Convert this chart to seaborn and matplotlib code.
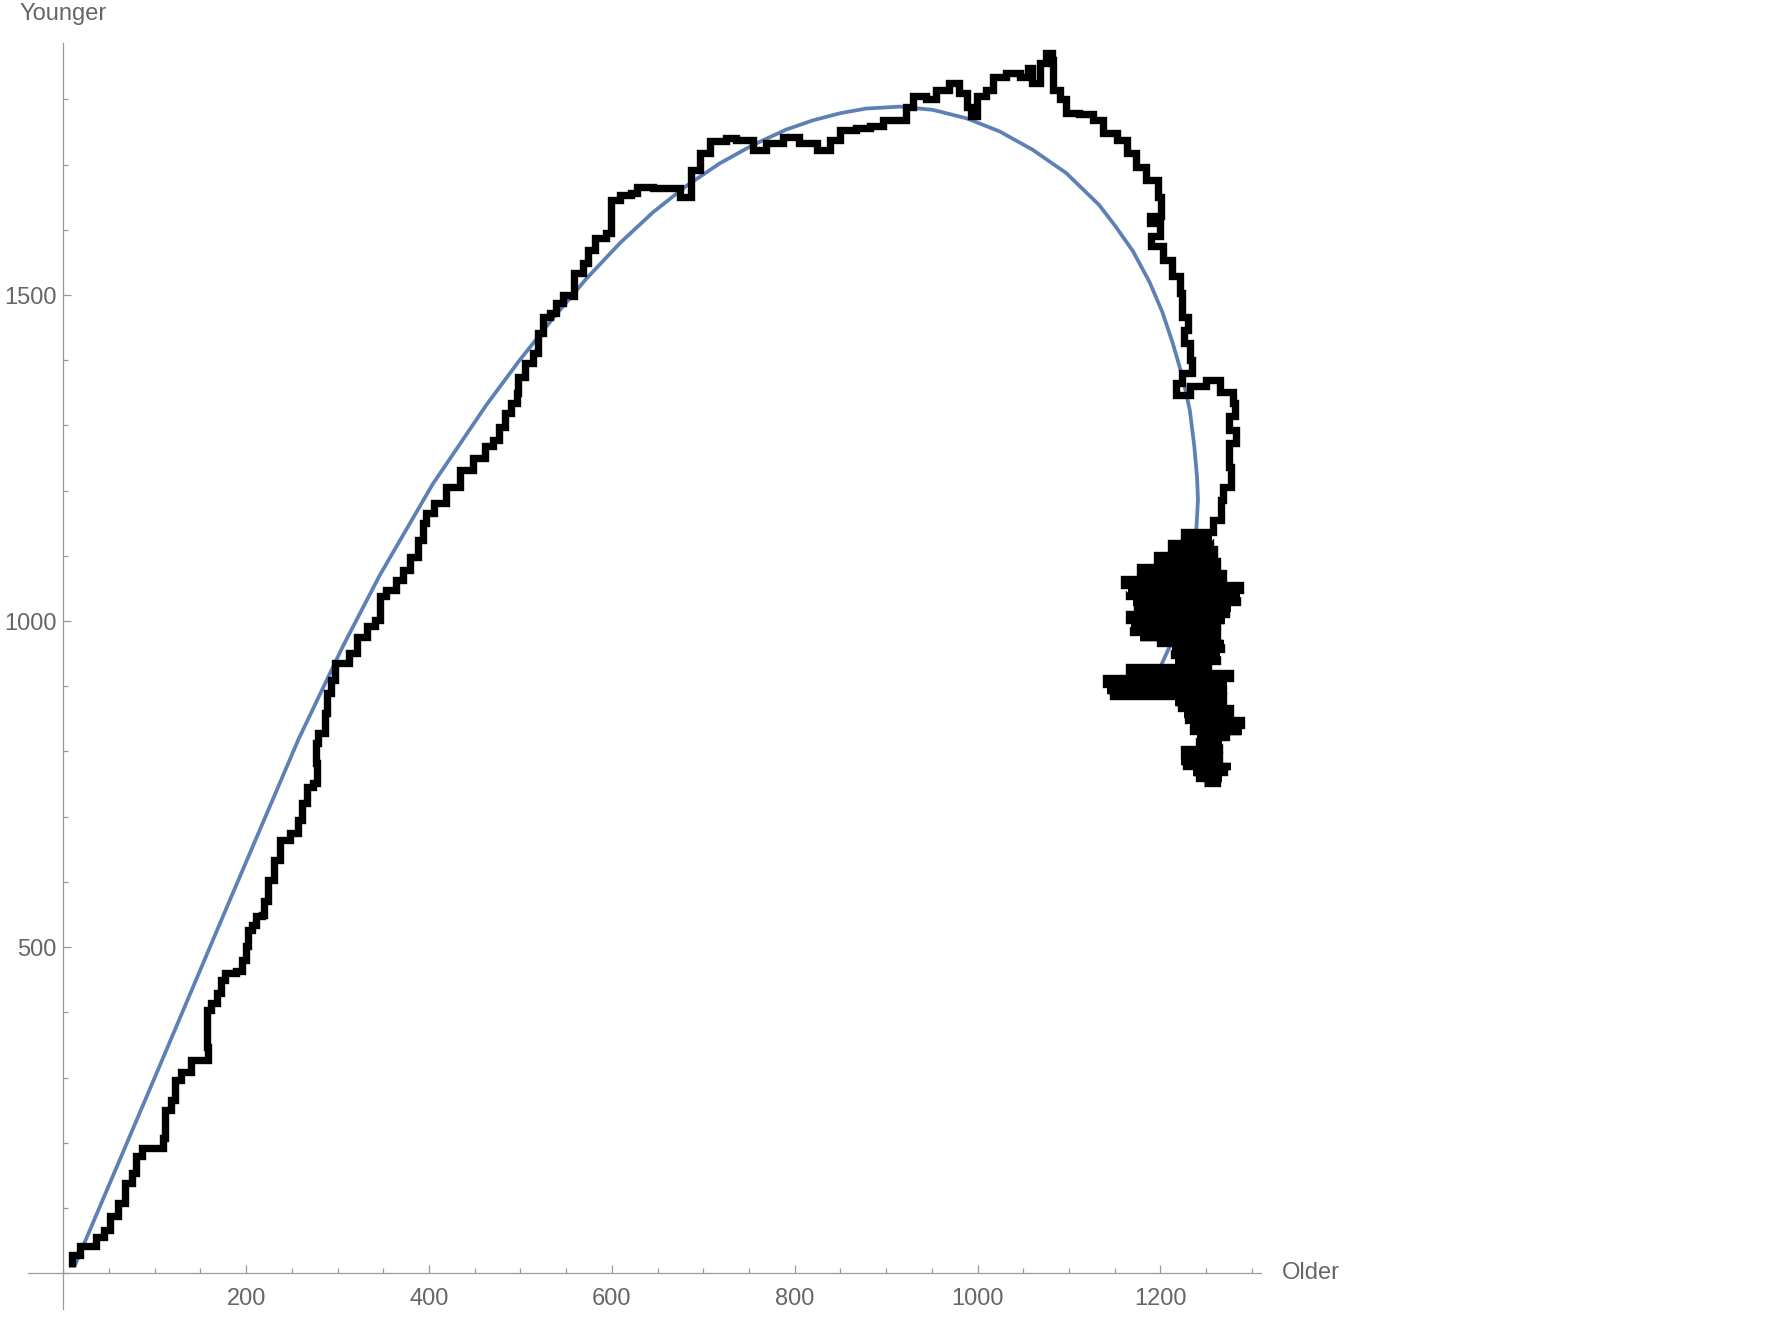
import pandas as pd
import matplotlib.pyplot as plt
import seaborn as sns
from matplotlib.ticker import MultipleLocator

sns.set_theme(style="white")
plt.rcParams['font.family'] = ['Liberation Sans', 'DejaVu Sans']

# random walk (older vs younger counts)
walk_older = [
    9, 9, 18, 29, 36, 44, 51, 60, 67, 75, 80, 86, 98, 109, 111, 118, 122, 129, 140, 157,
    158, 157, 157, 162, 168, 173, 177, 189, 195, 200, 202, 206, 211, 217, 219,
    224, 230, 237, 248, 257, 261, 266, 273, 277, 276, 279, 286, 288, 293, 297, 304, 312,
    321, 332, 341, 346, 353, 364, 372, 379, 388, 393, 397, 405,
    419, 434, 448, 461, 470, 477, 483, 490, 496, 497, 505, 514, 519, 525, 532, 539, 547,
    557, 559, 568, 574, 581, 594, 599, 599, 609, 621, 628, 645, 660, 674, 687, 687, 696,
    707, 725, 736, 754, 769, 787, 805, 824, 838, 849, 867, 882, 896, 915, 922, 929, 944,
    955, 969, 980, 988, 993, 999, 1009, 1017, 1031, 1046, 1055, 1060, 1068, 1075, 1081,
    1082, 1090, 1097, 1111, 1126, 1137, 1152, 1163, 1173, 1184, 1197, 1201, 1188, 1199,
    1190, 1203, 1213, 1221, 1224, 1230, 1226, 1232, 1234, 1223, 1217, 1232, 1250, 1265,
    1279, 1281, 1275, 1283, 1275, 1277, 1268, 1266, 1257,
    # tangled cluster near the end
    1230, 1226, 1255, 1254, 1218, 1212, 1258, 1258, 1205, 1196, 1260, 1262, 1188,
    1178, 1264, 1268, 1168, 1160, 1272, 1287, 1164, 1166, 1286, 1284, 1170, 1174, 1276,
    1272, 1168, 1166, 1270, 1262, 1168, 1170, 1258, 1262, 1178, 1200, 1268, 1266, 1213,
    1215, 1264, 1262, 1216, 1252, 1196, 1166, 1270, 1276, 1150, 1140, 1272, 1268, 1142,
    1148, 1266, 1268, 1216, 1222, 1272, 1276, 1226, 1230, 1286, 1288, 1232, 1236, 1288,
    1272, 1240, 1242, 1266, 1264, 1234, 1226, 1262, 1264, 1222, 1228, 1276, 1270, 1236,
    1242, 1266, 1262, 1248,
]
walk_younger = [
    10, 28, 41, 41, 56, 66, 87, 107, 138, 153, 179, 192, 192, 207, 250, 266, 296, 309, 327, 327,
    347, 368, 404, 414, 429, 450, 460, 463, 480, 501, 526, 534, 547, 550, 570,
    603, 634, 665, 675, 695, 721, 746, 751, 782, 813, 828, 859, 889, 910, 936, 936, 951,
    976, 992, 1002, 1038, 1048, 1063, 1079, 1099, 1125, 1150, 1166, 1181,
    1206, 1232, 1250, 1268, 1278, 1298, 1319, 1334, 1350, 1375, 1396, 1411, 1442, 1467, 1472, 1488, 1500,
    1498, 1534, 1549, 1569, 1587, 1595, 1616, 1646, 1654, 1656, 1666, 1664, 1664, 1651, 1666, 1692, 1718,
    1736, 1741, 1738, 1723, 1733, 1743, 1733, 1723, 1738, 1753, 1756, 1759, 1769, 1769, 1789, 1805, 1800,
    1815, 1825, 1810, 1789, 1774, 1805, 1815, 1835, 1840, 1835, 1848, 1825, 1856, 1871, 1861,
    1815, 1800, 1779, 1777, 1769, 1748, 1738, 1718, 1697, 1677, 1651, 1621, 1610, 1590,
    1575, 1554, 1529, 1503, 1467, 1447, 1426, 1401, 1380, 1365, 1347, 1360, 1370, 1352,
    1334, 1314, 1293, 1273, 1237, 1206, 1186, 1155, 1137,
    # tangled cluster near the end
    1137, 1128, 1128, 1119, 1119, 1110, 1110, 1101, 1101, 1092, 1092, 1083, 1083,
    1074, 1074, 1065, 1065, 1056, 1056, 1047, 1047, 1038, 1038, 1029, 1029, 1020, 1020,
    1011, 1011, 1002, 1002, 993, 993, 984, 984, 975, 975, 966, 966, 957, 957,
    948, 948, 939, 939, 930, 930, 921, 921, 912, 912, 903, 903, 894, 894,
    885, 885, 876, 876, 867, 867, 858, 858, 849, 849, 840, 840, 831, 831,
    822, 822, 813, 813, 804, 804, 795, 795, 786, 786, 777, 777, 768, 768,
    759, 759, 752, 752,
]

# smooth fitted trajectory
fit_older = [13, 100, 180, 257, 306, 346, 404, 463, 499, 536, 572, 609, 645, 681, 718,
             754, 791, 820, 850, 878, 915, 951, 988, 1024, 1060, 1097, 1133, 1151, 1170,
             1188, 1202, 1213, 1224, 1232, 1237, 1240, 1241, 1239, 1235, 1228, 1219, 1210,
             1200]
fit_younger = [13, 300, 565, 818, 962, 1070, 1210, 1332, 1400, 1465, 1525, 1580, 1627, 1667,
               1702, 1730, 1754, 1768, 1779, 1786, 1789, 1784, 1771, 1751, 1723, 1687, 1638,
               1605, 1567, 1520, 1474, 1428, 1375, 1324, 1268, 1220, 1186, 1135, 1084, 1033,
               992, 961, 930]

walk = pd.DataFrame({'Older': walk_older, 'Younger': walk_younger})
fit = pd.DataFrame({'Older': fit_older, 'Younger': fit_younger})

fig = plt.figure(figsize=(17.77, 13.39), dpi=100)
ax = fig.add_axes([0.01576, 0.0224, 0.6939, 0.9457])

sns.lineplot(data=fit, x='Older', y='Younger', sort=False, estimator=None,
             color='#5E81B5', lw=2.7, ax=ax, zorder=2)
sns.lineplot(data=walk, x='Older', y='Younger', sort=False, estimator=None,
             color='black', lw=5.3, drawstyle='steps-post', ax=ax, zorder=3,
             solid_joinstyle='miter', solid_capstyle='butt')

ax.set_xlim(-38.6, 1310)
ax.set_ylim(-55, 1887)
ax.set_xlabel('')
ax.set_ylabel('')

for side in ['top', 'right']:
    ax.spines[side].set_visible(False)
ax.spines['left'].set_position(('data', 0))
ax.spines['bottom'].set_position(('data', 0))
for side in ['left', 'bottom']:
    ax.spines[side].set_color('#999999')
    ax.spines[side].set_linewidth(0.9)

ax.set_xticks([200, 400, 600, 800, 1000, 1200])
ax.set_yticks([500, 1000, 1500])
ax.xaxis.set_minor_locator(MultipleLocator(50))
ax.yaxis.set_minor_locator(MultipleLocator(100))
ax.tick_params(which='both', direction='in', bottom=True, left=True, color='#999999',
               width=0.9, labelcolor='#666666', labelsize=17)
ax.tick_params(which='major', length=6)
ax.tick_params(which='minor', length=3.6)
ax.tick_params(axis='x', which='major', pad=11)
ax.tick_params(axis='y', which='major', pad=5)

ax.annotate('Older', xy=(1, 0), xycoords=('axes fraction', 'data'), xytext=(15, 0),
            textcoords='offset points', ha='left', va='center', fontsize=17, color='#666666')
ax.annotate('Younger', xy=(0, 1), xycoords=('data', 'axes fraction'), xytext=(0, 16),
            textcoords='offset points', ha='center', va='baseline', fontsize=17, color='#666666')

fig.savefig('out.png', dpi=100)
